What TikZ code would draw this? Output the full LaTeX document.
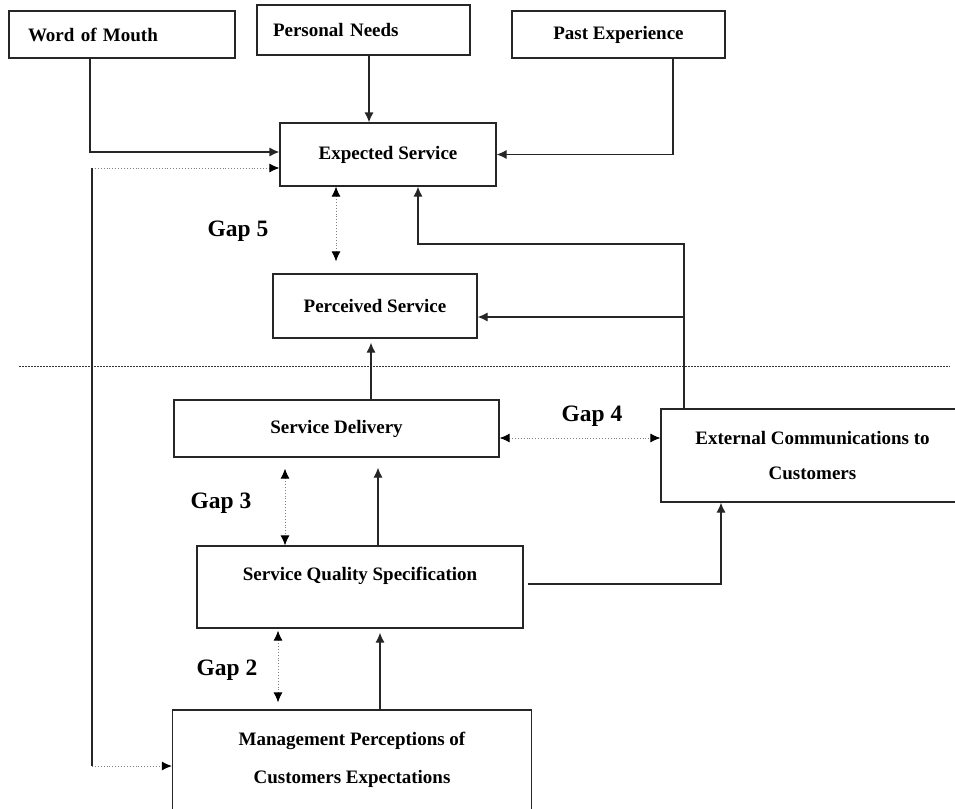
\documentclass[tikz,border=0pt]{standalone}
\usepackage{fontspec}
\setmainfont{Liberation Serif}
\usetikzlibrary{arrows.meta}

\begin{document}
\begin{tikzpicture}[
  x=1pt, y=-1pt,
  font=\bfseries\fontsize{19}{35}\selectfont,
  box/.style={
    rectangle,
    draw=black!85,
    line width=1.2pt,
    align=center,
    inner sep=0pt
  },
  arrow/.style={-{Latex[length=10pt,width=9pt]}, line width=1.2pt, draw=black!85},
  gaparrow/.style={{Latex[length=10pt,width=9pt,color=black]}-{Latex[length=10pt,width=9pt,color=black]},
    dotted, line width=0.9pt, draw=gray},
  dotarrow/.style={-{Latex[length=10pt,width=9pt,color=black]}, dotted, line width=0.9pt, draw=gray},
  plainline/.style={line width=1.2pt, draw=black!85},
  sepline/.style={line width=1pt, draw=black!80, dash pattern=on 1.5pt off 1.5pt},
  gap/.style={font=\bfseries\fontsize{23.5}{28}\selectfont}
]
  \useasboundingbox (0,0) rectangle (955,808);

  % determinants of expectations
  \node[box, minimum width=226pt, minimum height=47pt, text width=188pt, align=left] (wom) at (122,34.5) {Word of Mouth};
  \node[box, minimum width=213pt, minimum height=50pt, text width=181pt, align=left] (needs) at (363.5,30) {Personal Needs};
  \node[box, minimum width=213pt, minimum height=47pt] (past) at (618.5,34.5) {Past Experience};

  % consumer side
  \node[box, minimum width=216pt, minimum height=63pt] (expected) at (388,154.5) {Expected Service};
  \node[box, minimum width=204pt, minimum height=64pt] (perceived) at (375,306) {Perceived Service};

  % provider side
  \node[box, minimum width=325pt, minimum height=57pt] (delivery) at (336.5,428.5) {Service Delivery};
  \node[box, minimum width=303pt, minimum height=93pt] (extcomm) at (812.5,455.5) {External Communications to\\Customers};
  \node[box, minimum width=326pt, minimum height=82pt] (spec) at (360,587) {Service Quality Specification\\[-20pt]\strut};
  \node[box, minimum width=359pt, minimum height=100pt] (mgmt) at (352,760) {Management Perceptions of\\[3pt]Customers Expectations};

  % gap labels
  \node[gap] (gap5) at (238,231) {Gap 5};
  \node[gap] (gap4) at (592,416) {Gap 4};
  \node[gap] (gap3) at (221,503) {Gap 3};
  \node[gap] (gap2) at (227,670) {Gap 2};

  \coordinate (fbtop) at (92,168);
  \coordinate (fbbot) at (92,766);
  \coordinate (ecturn) at (684,244);
  \coordinate (ecfork) at (684,317);
  \coordinate (sepL) at (19,366);
  \coordinate (sepR) at (950,366);

  \draw[sepline] (sepL) -- (sepR);

  \draw[arrow] ([xshift=-32pt]wom.south) |- ([yshift=2.5pt]expected.west);
  \draw[arrow] ([xshift=5.5pt]needs.south) -- ([xshift=-19pt]expected.north);
  \draw[arrow] ([xshift=54.5pt]past.south) |- (expected.east);

  \draw[dotarrow] (fbtop) -- (fbtop -| expected.west);
  \draw[plainline] (fbtop) -- (fbbot);
  \draw[dotarrow] (fbbot) -- (fbbot -| mgmt.west);

  \draw[gaparrow] ([xshift=-52pt]expected.south) -- ([xshift=-39pt,yshift=12pt]perceived.north);
  \draw[arrow] ([xshift=-128.5pt]extcomm.north) -- (ecturn) -| ([xshift=30pt]expected.south);
  \draw[arrow] (ecfork) -- ([yshift=-11pt]perceived.east);
  \draw[arrow] ([xshift=34.5pt]delivery.north) -- ([xshift=-4pt,yshift=-4pt]perceived.south);

  \draw[gaparrow] ([yshift=-9.5pt]delivery.east) -- ([yshift=17.5pt]extcomm.west);
  \draw[gaparrow] ([xshift=-51.5pt,yshift=-11pt]delivery.south) -- ([xshift=-75pt]spec.north);
  \draw[arrow] ([xshift=18pt]spec.north) -- ([xshift=41.5pt,yshift=-10pt]delivery.south);
  \draw[arrow] ([xshift=4pt,yshift=3pt]spec.east) -| ([xshift=-91.5pt]extcomm.south);

  \draw[gaparrow] ([xshift=-82pt,yshift=-2pt]spec.south) -- ([xshift=-74pt,yshift=7pt]mgmt.north);
  \draw[arrow] ([xshift=28pt]mgmt.north) -- ([xshift=20pt,yshift=-4pt]spec.south);
\end{tikzpicture}
\end{document}
